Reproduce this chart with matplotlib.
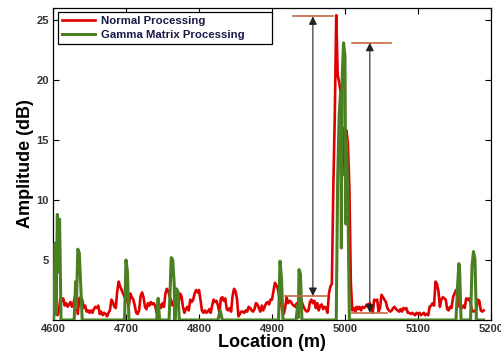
import numpy as np
import matplotlib
matplotlib.use("Agg")
import matplotlib.pyplot as plt

plt.rcParams['font.family'] = ['Liberation Sans', 'DejaVu Sans']

# red trace: amplitude every 2 m from 4600 to 5190
red_start, red_step = 4600, 2
red_amp = [
    2.3, 2.1, 0.6, 0.4, 0.7,
    1.8, 1.6, 1.8, 1.2, 1.4,
    1.1, 1.3, 1.5, 1.1, 1.4,
    1.9, 1.7, 0.5, 1.8, 1.9,
    1.7, 1.0, 1.2, 0.7, 0.8,
    0.6, 0.8, 0.6, 0.9, 1.1,
    1.0, 1.2, 0.5, 0.7, 0.4,
    0.6, 0.5, 0.3, 0.6, 0.8,
    1.7, 1.5, 1.1, 1.0, 2.4,
    3.2, 2.8, 2.5, 2.2, 1.9,
    1.8, 1.5, 1.2, 2.2, 1.9,
    1.7, 1.2, 0.6, 0.5, 0.8,
    2.0, 2.3, 1.9, 1.1, 0.9,
    1.4, 1.2, 1.5, 1.3, 1.4,
    1.2, 0.6, 0.9, 1.3, 1.0,
    1.4, 1.1, 2.2, 2.6, 2.4,
    1.9, 1.6, 1.2, 1.5, 2.3,
    2.0, 1.4, 2.2, 2.0, 1.1,
    0.6, 0.9, 1.1, 0.8, 1.7,
    1.5, 1.7, 2.2, 2.5, 2.3,
    2.5, 1.7, 0.8, 0.6, 0.8,
    0.6, 0.7, 0.9, 0.6, 1.2,
    1.7, 1.5, 1.6, 1.2, 0.6,
    1.8, 1.9, 1.6, 1.8, 0.9,
    0.8, 1.0, 0.7, 2.0, 2.6,
    2.4, 1.8, 0.3, 0.5, 0.7,
    0.7, 0.6, 0.8, 0.7, 1.1,
    1.0, 0.8, 0.7, 0.9, 1.4,
    1.3, 1.0, 0.7, 1.2, 0.8,
    1.1, 1.4, 1.5, 1.3, 1.7,
    1.7, 2.4, 3.1, 2.9, 2.6,
    1.9, 1.5, 0.8, 0.5, 1.0,
    1.9, 1.4, 1.6, 1.5, 1.3,
    1.2, 1.1, 1.4, 0.9, 1.0,
    1.7, 1.3, 1.0, 0.8, 0.7,
    0.8, 1.5, 1.7, 1.4, 1.6,
    1.0, 1.4, 0.8, 1.2, 1.3,
    0.9, 1.1, 1.0, 0.6, 2.2,
    2.8, 3.0, 11.0, 17.0, 25.4,
    20.4, 19.8, 19.0, 12.0, 16.0,
    13.0, 15.8, 14.7, 11.0, 3.1,
    0.8, 1.0, 0.7, 1.1, 0.9,
    1.1, 0.8, 1.1, 1.0, 1.1,
    1.3, 1.2, 1.4, 1.1, 0.6,
    1.7, 1.6, 1.7, 0.7, 1.0,
    2.1, 1.9, 1.7, 1.5, 1.0,
    0.8, 0.7, 0.8, 1.0, 1.1,
    0.9, 0.8, 0.7, 0.9, 0.7,
    1.0, 0.9, 1.0, 0.6, 0.6,
    0.5, 0.6, 0.5, 0.4, 0.6,
    0.5, 0.6, 0.4, 0.5, 0.6,
    0.4, 0.5, 0.4, 1.1, 1.2,
    1.4, 1.2, 3.2, 3.0, 2.4,
    1.1, 1.7, 1.9, 1.8, 1.7,
    0.9, 0.8, 1.1, 1.0, 1.9,
    2.2, 2.5, 2.3, 1.2, 1.0,
    1.0, 1.2, 1.0, 1.8, 1.7,
    1.8, 1.4, 0.8, 0.7, 0.8,
    0.9, 1.7, 1.6, 0.8, 0.7,
    0.8,
]
red_loc = red_start + red_step * np.arange(len(red_amp))

# green trace: mostly zero, isolated spikes
green_loc = [4600, 4601, 4603, 4604, 4606, 4607, 4609, 4611,
             4629, 4631, 4632, 4634, 4636, 4638, 4640,
             4698, 4700, 4702, 4704,
             4742, 4744, 4746,
             4759, 4762, 4764, 4766, 4767, 4769, 4771, 4773,
             4826, 4829, 4832,
             4909, 4911, 4913, 4915,
             4933, 4935, 4936, 4937, 4939, 4941,
             4988, 4990, 4992, 4994, 4995, 4996, 4998, 5000, 5001, 5002, 5004, 5006,
             5152, 5154, 5156, 5157, 5159,
             5172, 5174, 5176, 5178, 5180, 5190]
green_amp = [0, 0, 6.4, 0.5, 8.8, 4.0, 8.4, 0,
             0, 3.2, 1.0, 5.9, 5.6, 2.9, 0,
             0, 5.0, 4.0, 0,
             0, 1.8, 0,
             0, 5.2, 5.0, 3.0, 0, 2.6, 2.4, 0,
             0, 0.8, 0,
             0, 4.9, 3.5, 0,
             0, 1.2, 0.2, 4.2, 3.8, 0,
             0, 12.0, 17.0, 19.0, 6.0, 20.0, 23.1, 22.0, 8.0, 15.0, 10.0, 0,
             0, 2.6, 4.7, 4.2, 0,
             0, 4.5, 5.7, 5.1, 0, 0]

# peak-height markers: arrow x, bottom level, top level, line extents
mark_x = [4956, 5034]
mark_low = [2.0, 0.6]
mark_high = [25.3, 23.1]
low_span = [(4918, 4975), (5010, 5058)]
high_span = [(4929, 4984), (5010, 5063)]

RED = '#e00000'
GREEN = '#4a7f22'
BROWN = '#c4683f'

fig = plt.figure(figsize=(5.01, 3.58), dpi=100)
ax = fig.add_axes([53 / 501, 38 / 358, 438 / 501, 312 / 358])

ax.plot(red_loc, red_amp, color=RED, lw=1.9, label='Normal Processing', zorder=2)
ax.plot(green_loc, green_amp, color=GREEN, lw=2.2, label='Gamma Matrix Processing', zorder=3)

for i in range(len(mark_x)):
    ax.plot(high_span[i], [mark_high[i]] * 2, color=BROWN, lw=1.2, zorder=4)
    ax.plot(low_span[i], [mark_low[i]] * 2, color=BROWN, lw=1.2, zorder=4)
    ax.annotate('', xy=(mark_x[i], mark_high[i]), xytext=(mark_x[i], mark_low[i]),
                arrowprops=dict(arrowstyle='<|-|>', color='#222222', lw=0.8,
                                mutation_scale=12, shrinkA=0, shrinkB=0), zorder=5)

ax.set_xlim(4600, 5200)
ax.set_ylim(0, 26)
ax.set_xticks(range(4600, 5201, 100))
ax.set_yticks([5, 10, 15, 20, 25])
ax.tick_params(direction='in', top=True, right=True, length=4, width=0.8,
               labelsize=8, labelcolor='#333333', pad=3)
for lab in ax.get_xticklabels() + ax.get_yticklabels():
    lab.set_fontweight('bold')
for sp in ax.spines.values():
    sp.set_linewidth(0.9)

ax.set_xlabel('Location (m)', fontsize=13, fontweight='bold', labelpad=0)
ax.set_ylabel('Amplitude (dB)', fontsize=13, fontweight='bold', labelpad=2)

leg = ax.legend(loc='upper left', bbox_to_anchor=(0.011, 0.0, 0.489, 0.987),
                mode='expand', fontsize=8.2, handlelength=2.9, borderaxespad=0,
                fancybox=False, framealpha=1, edgecolor='black',
                borderpad=0.35, labelspacing=0.35, handletextpad=0.5)
leg.get_frame().set_linewidth(0.9)
for t in leg.get_texts():
    t.set_fontweight('bold')
    t.set_color('#1a1a4a')

fig.savefig('out.png', dpi=100)
